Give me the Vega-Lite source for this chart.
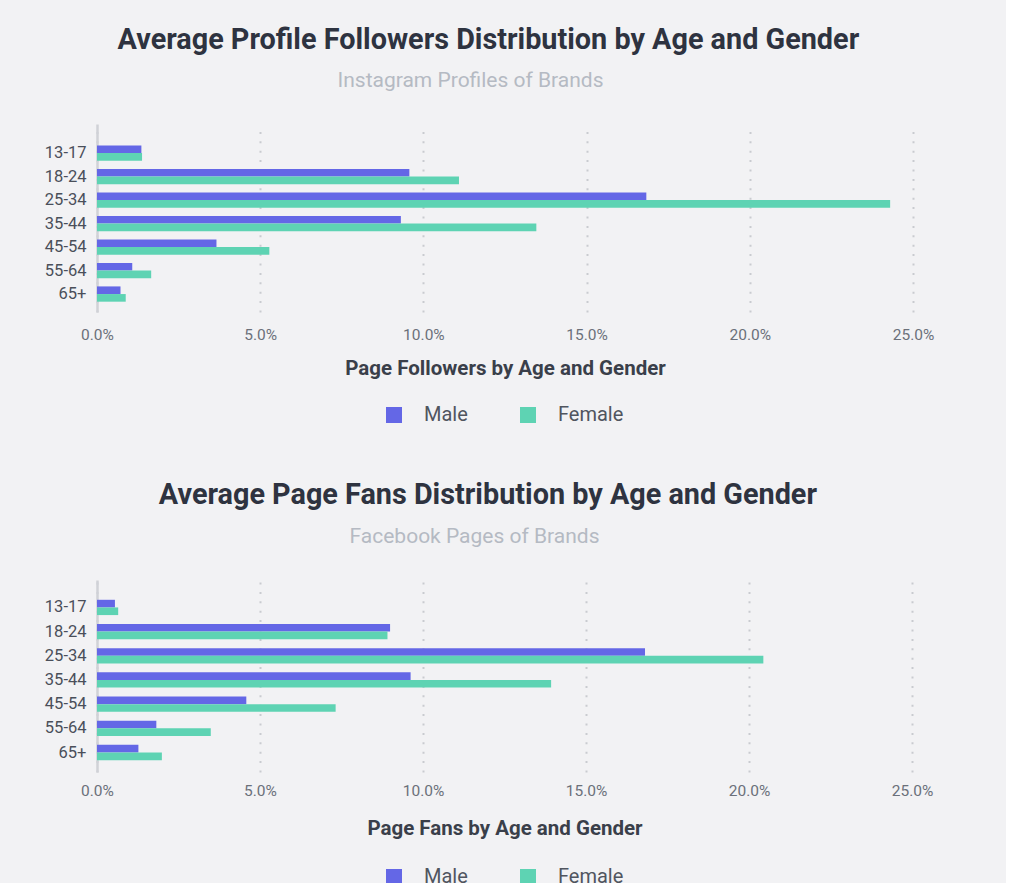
{
  "$schema": "https://vega.github.io/schema/vega-lite/v6.json",
  "background": "#f2f2f4",
  "padding": {"left": 43, "top": 26, "right": 72, "bottom": 0},
  "config": {
    "font": "Roboto",
    "view": {"stroke": null},
    "axisY": {"labelFontSize": 16.5, "labelColor": "#4a4f5a", "labelPadding": 11, "ticks": false, "domainColor": "#d0d2d7", "domainWidth": 2.5, "grid": false, "title": null, "minExtent": 54, "maxExtent": 54},
    "axisX": {"labelFontSize": 15.5, "labelColor": "#6b707a", "labelPadding": 15, "labelFlush": false, "domain": false, "ticks": false, "grid": true, "gridColor": "#c9cbd0", "gridWidth": 2, "gridDash": [2, 7.4], "titleFontSize": 20.5, "titleFontWeight": "bold", "titleColor": "#3a3f4a", "titlePadding": 16},
    "legend": {"orient": "none", "direction": "horizontal", "title": null, "symbolType": "square", "symbolSize": 256, "symbolStrokeWidth": 0, "labelFontSize": 20, "labelColor": "#50555f", "columnPadding": 50, "labelOffset": 20}
  },
  "datasets": {
    "instagram": [
      {"age": "13-17", "gender": "Male", "value": 0.0136},
      {"age": "13-17", "gender": "Female", "value": 0.0138},
      {"age": "18-24", "gender": "Male", "value": 0.0957},
      {"age": "18-24", "gender": "Female", "value": 0.1109},
      {"age": "25-34", "gender": "Male", "value": 0.1683},
      {"age": "25-34", "gender": "Female", "value": 0.243},
      {"age": "35-44", "gender": "Male", "value": 0.0931},
      {"age": "35-44", "gender": "Female", "value": 0.1346},
      {"age": "45-54", "gender": "Male", "value": 0.0366},
      {"age": "45-54", "gender": "Female", "value": 0.0528},
      {"age": "55-64", "gender": "Male", "value": 0.0108},
      {"age": "55-64", "gender": "Female", "value": 0.0166},
      {"age": "65+", "gender": "Male", "value": 0.0072},
      {"age": "65+", "gender": "Female", "value": 0.0088}
    ],
    "facebook": [
      {"age": "13-17", "gender": "Male", "value": 0.0055},
      {"age": "13-17", "gender": "Female", "value": 0.0065},
      {"age": "18-24", "gender": "Male", "value": 0.0899},
      {"age": "18-24", "gender": "Female", "value": 0.0891},
      {"age": "25-34", "gender": "Male", "value": 0.1681},
      {"age": "25-34", "gender": "Female", "value": 0.2044},
      {"age": "35-44", "gender": "Male", "value": 0.0962},
      {"age": "35-44", "gender": "Female", "value": 0.1393},
      {"age": "45-54", "gender": "Male", "value": 0.0458},
      {"age": "45-54", "gender": "Female", "value": 0.0732},
      {"age": "55-64", "gender": "Male", "value": 0.0182},
      {"age": "55-64", "gender": "Female", "value": 0.0349},
      {"age": "65+", "gender": "Male", "value": 0.0127},
      {"age": "65+", "gender": "Female", "value": 0.0199}
    ]
  },
  "spacing": 56,
  "resolve": {"scale": {"color": "independent"}, "legend": {"color": "independent"}},
  "vconcat": [
    {
      "title": {"text": "Average Profile Followers Distribution by Age and Gender", "fontSize": 28.8, "fontWeight": "bold", "color": "#2e3340", "anchor": "middle", "offset": 15, "dx": 0},
      "vconcat": [
        {
          "title": {"text": "Instagram Profiles of Brands", "fontSize": 21, "fontWeight": "normal", "color": "#b5bac3", "anchor": "middle", "frame": "group", "dx": -34.5, "offset": 33},
          "width": 816,
          "height": 188,
          "data": {"name": "instagram"},
          "mark": {"type": "bar"},
          "encoding": {
            "y": {"field": "age", "type": "nominal", "sort": ["13-17", "18-24", "25-34", "35-44", "45-54", "55-64", "65+"], "scale": {"paddingInner": 0.35, "paddingOuter": 0.675, "align": 0.675}},
            "yOffset": {"field": "gender", "type": "nominal", "sort": ["Male", "Female"], "scale": {"paddingInner": 0, "paddingOuter": 0}},
            "x": {"field": "value", "type": "quantitative", "title": "Page Followers by Age and Gender", "scale": {"domain": [0, 0.25], "nice": false}, "axis": {"format": ".1%", "values": [0, 0.05, 0.1, 0.15, 0.2, 0.25]}},
            "color": {"field": "gender", "type": "nominal", "sort": ["Male", "Female"], "scale": {"domain": ["Male", "Female"], "range": ["#6467e6", "#5ed3b3"]}, "legend": {"legendX": 287, "legendY": 281}}
          }
        }
      ]
    },
    {
      "title": {"text": "Average Page Fans Distribution by Age and Gender", "fontSize": 28.8, "fontWeight": "bold", "color": "#2e3340", "anchor": "middle", "offset": 16, "dx": 0},
      "vconcat": [
        {
          "title": {"text": "Facebook Pages of Brands", "fontSize": 21, "fontWeight": "normal", "color": "#b5bac3", "anchor": "middle", "frame": "group", "dx": -30, "offset": 33},
          "width": 815,
          "height": 192,
          "data": {"name": "facebook"},
          "mark": {"type": "bar"},
          "encoding": {
            "y": {"field": "age", "type": "nominal", "sort": ["13-17", "18-24", "25-34", "35-44", "45-54", "55-64", "65+"], "scale": {"paddingInner": 0.367, "paddingOuter": 0.654, "align": 0.626}},
            "yOffset": {"field": "gender", "type": "nominal", "sort": ["Male", "Female"], "scale": {"paddingInner": 0, "paddingOuter": 0}},
            "x": {"field": "value", "type": "quantitative", "title": "Page Fans by Age and Gender", "scale": {"domain": [0, 0.25], "nice": false}, "axis": {"format": ".1%", "values": [0, 0.05, 0.1, 0.15, 0.2, 0.25], "labelPadding": 11, "titlePadding": 20}},
            "color": {"field": "gender", "type": "nominal", "sort": ["Male", "Female"], "scale": {"domain": ["Male", "Female"], "range": ["#6467e6", "#5ed3b3"]}, "legend": {"legendX": 287, "legendY": 287}}
          }
        }
      ]
    }
  ]
}
